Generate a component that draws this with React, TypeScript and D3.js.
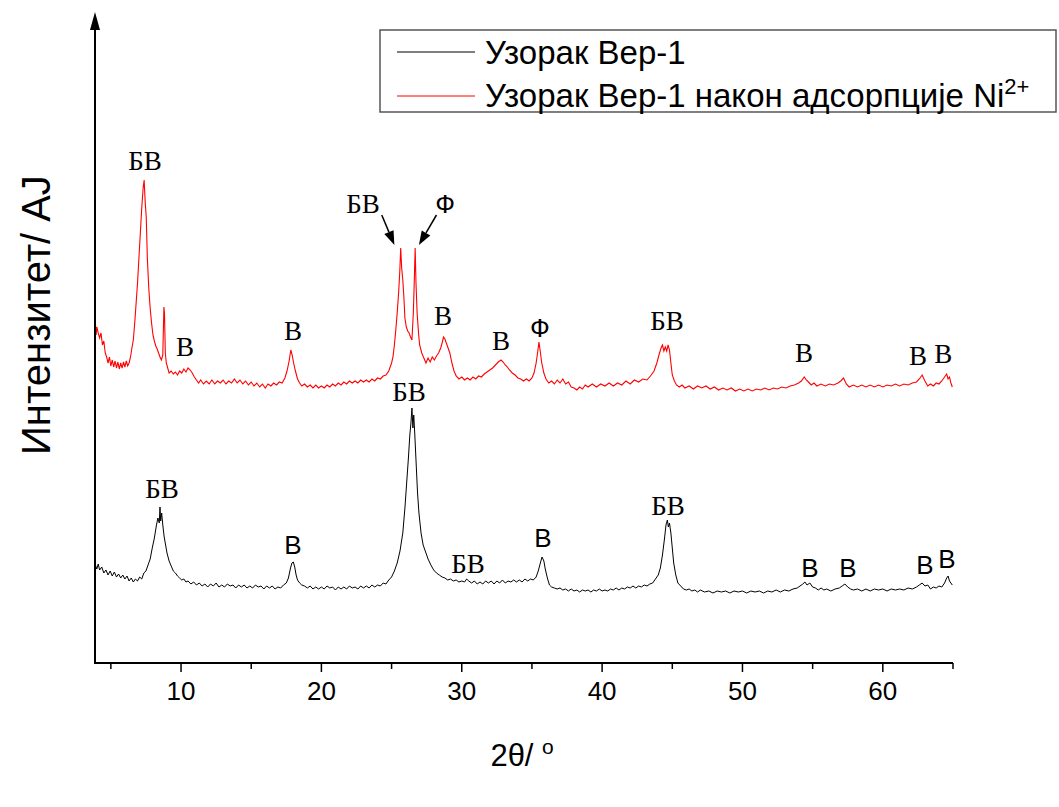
import React from "react";
import * as d3 from "d3";

// ---------- DATA ----------
const xTicksMajor = [10, 20, 30, 40, 50, 60];
const xTicksMinor = [5, 15, 25, 35, 45, 55, 65];

const seriesNames = ["Узорак Вер-1", "Узорак Вер-1 након адсорпције Ni"];

// [2θ, intensity (a.u.)]
const sampleBer1: [number, number][] = [
[3.9,98],[4.0,94],[4.1,99],[4.2,93],[4.35,96],[4.5,90],[4.65,93],[4.8,88],[4.95,92],[5.1,87],[5.25,91],[5.4,86],[5.55,89],[5.7,85],[5.85,88],[6.0,84],[6.15,87],[6.3,82],[6.45,85],[6.6,81],[6.75,84],[6.9,82],[7.05,86],[7.2,84],[7.35,90],[7.5,92],[7.65,98],[7.8,104],[7.95,115],[8.1,125],[8.25,138],[8.35,145],[8.45,140],[8.5,156],[8.55,142],[8.62,150],[8.7,138],[8.8,126],[8.9,118],[9.0,110],[9.15,102],[9.3,97],[9.45,92],[9.6,90],[9.75,87],[9.9,85],[10.05,83],[10.2,84],[10.35,81],[10.5,82],[10.7,79],[10.9,81],[11.1,78],[11.3,80],[11.5,77],[11.7,79],[11.9,76],[12.1,79],[12.3,77],[12.5,80],[12.7,76],[12.9,78],[13.1,76],[13.3,79],[13.5,77],[13.7,78],[13.9,75],[14.1,78],[14.3,76],[14.5,78],[14.7,75],[14.9,77],[15.1,75],[15.3,78],[15.5,76],[15.7,77],[15.9,74],[16.1,77],[16.3,75],[16.5,77],[16.7,74],[16.9,76],[17.1,75],[17.3,78],[17.5,80],[17.65,85],[17.8,95],[17.9,100],[18.0,101],[18.1,96],[18.2,88],[18.3,83],[18.45,80],[18.6,78],[18.8,77],[19.0,75],[19.2,77],[19.4,74],[19.6,76],[19.8,74],[20.0,76],[20.2,74],[20.4,77],[20.6,75],[20.8,76],[21.0,73],[21.2,76],[21.4,74],[21.6,76],[21.8,74],[22.0,77],[22.2,75],[22.4,76],[22.6,74],[22.8,77],[23.0,75],[23.2,77],[23.4,75],[23.6,78],[23.8,76],[24.0,78],[24.2,77],[24.4,80],[24.6,79],[24.8,83],[25.0,86],[25.2,92],[25.4,100],[25.6,112],[25.8,130],[25.95,155],[26.1,185],[26.2,205],[26.3,228],[26.38,240],[26.45,255],[26.52,235],[26.58,248],[26.65,230],[26.75,200],[26.85,170],[26.95,150],[27.1,130],[27.25,118],[27.4,112],[27.6,104],[27.8,98],[28.0,93],[28.2,90],[28.4,88],[28.6,86],[28.8,85],[29.0,83],[29.2,84],[29.4,82],[29.6,83],[29.8,81],[30.0,82],[30.2,81],[30.35,84],[30.5,82],[30.7,80],[30.9,82],[31.1,79],[31.3,81],[31.5,79],[31.7,82],[31.9,80],[32.1,82],[32.3,79],[32.5,82],[32.7,80],[32.9,83],[33.1,80],[33.3,82],[33.5,81],[33.7,83],[33.9,81],[34.1,83],[34.3,81],[34.5,84],[34.7,82],[34.9,84],[35.1,83],[35.3,86],[35.45,92],[35.6,100],[35.72,106],[35.85,102],[35.95,94],[36.1,85],[36.25,78],[36.4,76],[36.6,75],[36.8,74],[37.0,75],[37.2,73],[37.4,74],[37.6,72],[37.8,74],[38.0,72],[38.2,73],[38.4,71],[38.6,73],[38.8,72],[39.0,73],[39.2,71],[39.4,73],[39.6,72],[39.8,74],[40.0,72],[40.2,73],[40.4,72],[40.6,74],[40.8,73],[41.0,75],[41.2,73],[41.4,75],[41.6,74],[41.8,76],[42.0,75],[42.2,77],[42.4,75],[42.6,77],[42.8,76],[43.0,78],[43.2,77],[43.4,79],[43.6,80],[43.8,84],[44.0,88],[44.15,95],[44.3,108],[44.45,125],[44.55,138],[44.65,143],[44.72,136],[44.8,140],[44.9,130],[45.0,115],[45.1,100],[45.25,88],[45.4,80],[45.6,77],[45.8,74],[46.0,73],[46.2,74],[46.4,72],[46.6,73],[46.8,71],[47.0,73],[47.3,71],[47.6,72],[47.9,70],[48.2,72],[48.5,71],[48.8,72],[49.1,70],[49.4,72],[49.7,71],[50.0,72],[50.3,70],[50.6,72],[50.9,71],[51.2,72],[51.5,70],[51.8,72],[52.1,71],[52.4,73],[52.7,71],[53.0,73],[53.3,72],[53.6,74],[53.9,75],[54.1,77],[54.3,79],[54.45,81],[54.6,78],[54.8,80],[55.0,76],[55.2,75],[55.4,73],[55.6,75],[55.8,73],[56.0,74],[56.3,72],[56.6,74],[56.9,75],[57.1,77],[57.3,79],[57.5,76],[57.7,74],[57.9,73],[58.2,74],[58.5,72],[58.8,74],[59.1,72],[59.4,74],[59.7,73],[60.0,74],[60.3,72],[60.6,74],[60.9,73],[61.2,74],[61.5,73],[61.8,75],[62.1,74],[62.4,76],[62.6,78],[62.8,80],[63.0,77],[63.2,78],[63.4,74],[63.6,76],[63.8,75],[64.0,77],[64.2,76],[64.4,80],[64.55,85],[64.65,87],[64.75,82],[64.85,80],[64.95,78]
];

const sampleBer1Ni: [number, number][] = [
[3.9,340],[3.95,328],[4.0,336],[4.1,330],[4.2,325],[4.3,330],[4.4,318],[4.5,322],[4.6,310],[4.7,306],[4.8,300],[4.9,306],[5.0,297],[5.1,303],[5.2,296],[5.3,302],[5.4,295],[5.5,301],[5.6,294],[5.7,300],[5.8,295],[5.9,301],[6.0,296],[6.1,302],[6.2,297],[6.3,300],[6.4,306],[6.5,315],[6.6,323],[6.7,340],[6.8,360],[6.9,380],[7.0,405],[7.1,430],[7.2,455],[7.3,475],[7.37,483],[7.45,460],[7.52,446],[7.6,405],[7.7,375],[7.8,355],[7.9,340],[8.0,328],[8.1,322],[8.2,317],[8.3,314],[8.4,310],[8.5,306],[8.6,303],[8.7,308],[8.78,356],[8.82,350],[8.88,310],[8.95,300],[9.05,295],[9.15,290],[9.3,292],[9.45,289],[9.6,291],[9.75,288],[9.9,292],[10.05,290],[10.2,294],[10.35,291],[10.5,295],[10.65,293],[10.8,290],[10.95,286],[11.1,283],[11.25,280],[11.4,283],[11.6,279],[11.8,282],[12.0,279],[12.2,283],[12.4,279],[12.6,282],[12.8,280],[13.0,283],[13.2,279],[13.4,282],[13.6,280],[13.8,284],[14.0,280],[14.2,283],[14.4,279],[14.6,282],[14.8,278],[15.0,281],[15.2,277],[15.4,280],[15.6,276],[15.8,279],[16.0,275],[16.2,279],[16.4,277],[16.6,280],[16.8,278],[17.0,281],[17.2,280],[17.4,285],[17.55,292],[17.7,302],[17.82,313],[17.92,308],[18.02,300],[18.15,292],[18.3,284],[18.45,280],[18.6,277],[18.8,279],[19.0,276],[19.2,278],[19.4,275],[19.6,278],[19.8,275],[20.0,277],[20.2,275],[20.4,278],[20.6,276],[20.8,279],[21.0,277],[21.2,280],[21.4,278],[21.6,281],[21.8,279],[22.0,282],[22.2,280],[22.4,282],[22.6,280],[22.8,283],[23.0,281],[23.2,283],[23.4,281],[23.6,284],[23.8,282],[24.0,285],[24.2,284],[24.4,287],[24.6,288],[24.8,292],[25.0,300],[25.1,306],[25.2,318],[25.3,333],[25.4,350],[25.5,370],[25.58,390],[25.65,415],[25.72,395],[25.8,383],[25.88,365],[25.95,345],[26.05,336],[26.15,332],[26.25,330],[26.35,326],[26.45,323],[26.55,350],[26.62,383],[26.68,415],[26.74,380],[26.82,350],[26.92,330],[27.0,318],[27.15,310],[27.3,305],[27.45,300],[27.6,305],[27.75,301],[27.9,306],[28.05,303],[28.2,307],[28.35,310],[28.5,315],[28.6,320],[28.7,326],[28.8,324],[28.9,320],[29.0,316],[29.15,310],[29.3,300],[29.45,292],[29.6,287],[29.8,284],[30.0,286],[30.2,283],[30.4,285],[30.6,283],[30.8,286],[31.0,284],[31.2,287],[31.4,286],[31.6,289],[31.8,291],[32.0,293],[32.2,295],[32.4,298],[32.6,301],[32.8,303],[32.95,301],[33.1,298],[33.25,296],[33.4,293],[33.6,290],[33.8,288],[34.0,285],[34.2,284],[34.4,282],[34.6,284],[34.8,282],[35.0,285],[35.15,290],[35.3,300],[35.42,312],[35.5,321],[35.58,313],[35.7,300],[35.85,290],[36.0,284],[36.2,280],[36.4,282],[36.6,279],[36.8,283],[37.0,280],[37.2,284],[37.4,279],[37.6,281],[37.8,276],[38.0,275],[38.2,273],[38.4,276],[38.6,274],[38.8,278],[39.0,276],[39.3,279],[39.6,276],[39.9,279],[40.2,277],[40.5,280],[40.8,277],[41.1,280],[41.4,278],[41.7,282],[42.0,279],[42.3,283],[42.6,281],[42.9,284],[43.2,283],[43.5,288],[43.7,292],[43.9,300],[44.05,308],[44.2,315],[44.3,318],[44.4,312],[44.5,316],[44.6,312],[44.7,318],[44.8,313],[44.9,300],[45.0,288],[45.15,282],[45.3,278],[45.5,276],[45.7,278],[45.9,275],[46.2,277],[46.5,274],[46.8,277],[47.1,275],[47.4,277],[47.7,274],[48.0,276],[48.3,273],[48.6,275],[48.9,273],[49.2,275],[49.5,272],[49.8,274],[50.1,272],[50.4,274],[50.7,272],[51.0,274],[51.3,273],[51.6,275],[51.9,273],[52.2,275],[52.5,274],[52.8,276],[53.1,275],[53.4,277],[53.7,278],[54.0,280],[54.2,282],[54.4,286],[54.55,283],[54.7,281],[54.9,278],[55.1,280],[55.3,277],[55.6,279],[55.9,277],[56.2,279],[56.5,278],[56.8,280],[57.0,282],[57.2,285],[57.4,279],[57.6,276],[57.9,278],[58.2,276],[58.5,278],[58.8,276],[59.1,278],[59.4,276],[59.7,278],[60.0,276],[60.3,278],[60.6,277],[60.9,279],[61.2,277],[61.5,279],[61.8,278],[62.1,280],[62.4,281],[62.6,284],[62.8,288],[63.0,282],[63.2,277],[63.4,279],[63.6,277],[63.8,280],[64.0,279],[64.2,282],[64.4,286],[64.55,289],[64.65,284],[64.75,286],[64.85,280],[64.95,276]
];

// peak annotations: [text, 2θ, intensity at baseline, "serif" | "sans"]
const peakLabels: [string, number, number, string][] = [
  ["БВ", 7.43, 493, "serif"],
  ["В", 10.28, 307, "serif"],
  ["В", 17.98, 323, "serif"],
  ["БВ", 22.96, 450, "serif"],
  ["Ф", 28.81, 450, "sans"],
  ["В", 28.66, 338, "serif"],
  ["В", 32.8, 313, "serif"],
  ["Ф", 35.57, 326, "sans"],
  ["БВ", 44.62, 333, "serif"],
  ["В", 54.38, 301, "serif"],
  ["В", 62.5, 298, "serif"],
  ["В", 64.3, 300, "serif"],
  ["БВ", 8.64, 165, "serif"],
  ["В", 17.98, 109, "sans"],
  ["БВ", 26.24, 262, "serif"],
  ["БВ", 30.44, 90, "serif"],
  ["В", 35.79, 116, "sans"],
  ["БВ", 44.69, 148, "serif"],
  ["В", 54.81, 86, "sans"],
  ["В", 57.52, 86, "sans"],
  ["В", 63.0, 89, "sans"],
  ["В", 64.57, 95, "sans"],
];

// arrows: [from 2θ, from I, to 2θ, to I]
const arrows: [number, number, number, number][] = [
  [24.3, 448, 25.2, 418],
  [28.2, 448, 26.95, 418],
];

// ---------- LAYOUT ----------
const W = 1059;
const H = 807;
const x = d3.scaleLinear().domain([3.87, 65]).range([95, 953]);
const y = d3.scaleLinear().domain([0, 651]).range([663, 12]);

const line = d3
  .line<[number, number]>()
  .x((d) => x(d[0]))
  .y((d) => y(d[1]));

const SERIF = "'Liberation Serif', 'Times New Roman', serif";
const SANS = "'Liberation Sans', Arial, sans-serif";
const NARROW = "'Liberation Sans Narrow', 'Arial Narrow', 'Liberation Sans', sans-serif";

function Arrow({ d }: { d: [number, number, number, number] }) {
  const x1 = x(d[0]), y1 = y(d[1]), x2 = x(d[2]), y2 = y(d[3]);
  const ang = Math.atan2(y2 - y1, x2 - x1);
  const len = 14, hw = 5;
  const bx = x2 - len * Math.cos(ang), by = y2 - len * Math.sin(ang);
  const px = -Math.sin(ang) * hw, py = Math.cos(ang) * hw;
  return (
    <g>
      <line x1={x1} y1={y1} x2={bx} y2={by} stroke="#000" strokeWidth={1.5} />
      <path d={`M${x2},${y2}L${bx + px},${by + py}L${bx - px},${by - py}Z`} fill="#000" />
    </g>
  );
}

export default function App() {
  const x0 = x.range()[0];
  const x1 = x.range()[1];
  const yb = y(0);
  return (
    <svg
      width={W}
      height={H}
      style={{ position: "absolute", left: 0, top: 0, background: "#fff" }}
    >
      <rect x={0} y={0} width={W} height={H} fill="#fff" />
      {/* series */}
      <path d={line(sampleBer1) || ""} fill="none" stroke="#000" strokeWidth={1} />
      <path d={line(sampleBer1Ni) || ""} fill="none" stroke="#ff0000" strokeWidth={1.1} />

      {/* axes */}
      <line x1={x0} y1={yb} x2={x1} y2={yb} stroke="#000" strokeWidth={2} />
      <line x1={x0} y1={yb + 1} x2={x0} y2={26} stroke="#000" strokeWidth={2} />
      <path d={`M${x0},${12}L${x0 - 5},${30}L${x0 + 5},${30}Z`} fill="#000" />
      {xTicksMajor.map((t) => (
        <g key={"M" + t}>
          <line x1={x(t)} x2={x(t)} y1={yb} y2={yb + 9} stroke="#000" strokeWidth={1.5} />
          <text
            x={x(t)}
            y={yb + 37}
            textAnchor="middle"
            fontFamily={NARROW}
            fontSize={26}
            fill="#000"
          >
            {t}
          </text>
        </g>
      ))}
      {xTicksMinor.map((t) => (
        <line key={"m" + t} x1={x(t)} x2={x(t)} y1={yb} y2={yb + 6} stroke="#000" strokeWidth={1.5} />
      ))}
      <text x={x(34.3)} y={yb + 103} textAnchor="middle" fontFamily={SANS} fontSize={31} fill="#000">
        2θ/ <tspan fontSize={21} dy={-12}>o</tspan>
      </text>
      <text
        transform={`translate(50, ${y(348)}) rotate(-90)`}
        textAnchor="middle"
        fontFamily={SANS}
        fontSize={40}
        fill="#000"
      >
        Интензитет/ AJ
      </text>

      {/* annotations */}
      {peakLabels.map(([t, px, py, f], i) => (
        <text
          key={"l" + i}
          x={x(px)}
          y={y(py)}
          textAnchor="middle"
          fontFamily={f === "serif" ? SERIF : SANS}
          fontSize={f === "serif" ? 27 : 26}
          fill="#000"
        >
          {t}
        </text>
      ))}
      {arrows.map((a, i) => (
        <Arrow key={"a" + i} d={a} />
      ))}

      {/* legend */}
      <rect x={380} y={30} width={676} height={82} fill="#fff" stroke="#555" strokeWidth={1.5} />
      <line x1={397} x2={475} y1={52} y2={52} stroke="#000" strokeWidth={1} />
      <text x={485} y={64} fontFamily={SANS} fontSize={33} fill="#000">
        {seriesNames[0]}
      </text>
      <line x1={397} x2={475} y1={96} y2={96} stroke="#ff0000" strokeWidth={1} />
      <text x={485} y={107} fontFamily={SANS} fontSize={33} fill="#000">
        {seriesNames[1]}
        <tspan fontSize={22} dy={-13}>2+</tspan>
      </text>
    </svg>
  );
}
